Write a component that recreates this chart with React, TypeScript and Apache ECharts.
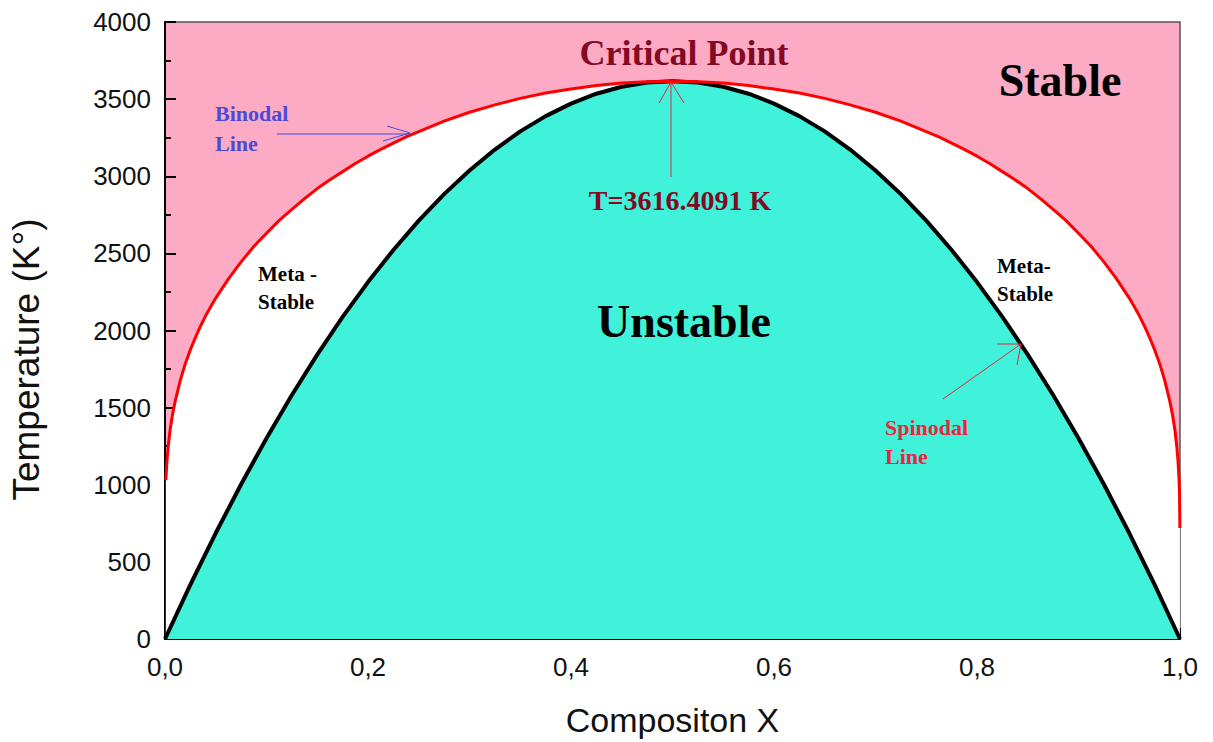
import React, { useEffect, useRef } from "react";
import * as echarts from "echarts";

// Binodal (red) curve: composition X and temperature (K)
const binodalX = [0.0008, 0.002, 0.003, 0.005, 0.0075, 0.01, 0.015, 0.02, 0.025, 0.03, 0.035, 0.04, 0.045, 0.05, 0.0625, 0.075, 0.0875, 0.1, 0.1125, 0.125, 0.1375, 0.15, 0.1625, 0.175, 0.1875, 0.2, 0.2125, 0.225, 0.2375, 0.25, 0.275, 0.3, 0.325, 0.35, 0.375, 0.4, 0.425, 0.45, 0.475, 0.5, 0.525, 0.55, 0.575, 0.6, 0.625, 0.65, 0.675, 0.7, 0.725, 0.75, 0.7625, 0.775, 0.7875, 0.8, 0.8125, 0.825, 0.8375, 0.85, 0.8625, 0.875, 0.8875, 0.9, 0.9125, 0.925, 0.9375, 0.95, 0.955, 0.96, 0.965, 0.97, 0.975, 0.98, 0.985, 0.99, 0.9925, 0.995, 0.997, 0.998, 0.999, 0.9995, 0.9999];
const binodalT = [1030, 1160, 1238, 1355, 1458, 1540, 1675, 1785, 1875, 1955, 2028, 2095, 2154, 2210, 2335, 2445, 2545, 2630, 2714, 2785, 2855, 2920, 2977, 3030, 3083, 3130, 3174, 3215, 3255, 3290, 3357, 3415, 3463, 3505, 3540, 3565, 3588, 3605, 3613, 3616, 3613, 3605, 3588, 3565, 3540, 3505, 3463, 3415, 3357, 3290, 3255, 3215, 3174, 3130, 3083, 3030, 2977, 2920, 2855, 2785, 2714, 2630, 2545, 2445, 2335, 2210, 2154, 2095, 2028, 1955, 1875, 1785, 1675, 1540, 1458, 1355, 1238, 1160, 1045, 950, 720];

// Spinodal (black) curve
const spinodalX = [0, 0.025, 0.05, 0.075, 0.1, 0.125, 0.15, 0.175, 0.2, 0.225, 0.25, 0.275, 0.3, 0.325, 0.35, 0.375, 0.4, 0.425, 0.45, 0.475, 0.5, 0.525, 0.55, 0.575, 0.6, 0.625, 0.65, 0.675, 0.7, 0.725, 0.75, 0.775, 0.8, 0.825, 0.85, 0.875, 0.9, 0.925, 0.95, 0.975, 1.0];
const spinodalT = [0, 353, 687, 1003, 1302, 1582, 1844, 2088, 2314, 2522, 2712, 2884, 3037, 3173, 3291, 3390, 3471, 3535, 3580, 3607, 3616, 3607, 3580, 3535, 3471, 3390, 3291, 3173, 3037, 2884, 2712, 2522, 2314, 2088, 1844, 1582, 1302, 1003, 687, 353, 0];

// Axis settings
const xTicks = { min: 0, max: 1, interval: 0.2 };
const yTicks = { min: 0, max: 4000, interval: 500 };

const SERIF = '"Liberation Serif", "Times New Roman", serif';
const SANS = '"Liberation Sans", Arial, sans-serif';

export default function App() {
  const ref = useRef<HTMLDivElement>(null);

  useEffect(() => {
    if (!ref.current) return;
    const chart = echarts.init(ref.current, null, { renderer: "svg" });

    const binodal = binodalX.map((x, i) => [x, binodalT[i]]);
    const spinodal = spinodalX.map((x, i) => [x, spinodalT[i]]);

    const txt = (text: string, x: number, y: number, size: number, fill: string, align = "left", lh?: number) => ({
      type: "text",
      x,
      y,
      z: 100,
      style: {
        text,
        fill,
        font: `bold ${size}px ${SERIF}`,
        align,
        verticalAlign: "top",
        lineHeight: lh ?? size,
      },
    });
    const ln = (x1: number, y1: number, x2: number, y2: number, stroke: string) => ({
      type: "line",
      z: 100,
      shape: { x1, y1, x2, y2 },
      style: { stroke, lineWidth: 1 },
    });
    const head = (pts: number[][], stroke: string) => ({
      type: "polyline",
      z: 100,
      shape: { points: pts },
      style: { stroke, lineWidth: 1, fill: "none" },
    });

    chart.setOption({
      animation: false,
      grid: {
        left: 162,
        right: 33,
        top: 22,
        bottom: 100,
        show: true,
        backgroundColor: "#FDAAC5",
        borderColor: "#555555",
        borderWidth: 1.5,
      },
      xAxis: {
        type: "value",
        min: xTicks.min,
        max: xTicks.max,
        interval: xTicks.interval,
        name: "Compositon X",
        nameLocation: "middle",
        nameGap: 64,
        nameTextStyle: { fontFamily: SANS, fontSize: 34, color: "#111" },
        axisLine: { show: true, lineStyle: { color: "#000", width: 2 } },
        axisTick: { show: true, inside: true, length: 11, lineStyle: { color: "#000", width: 2 } },
        minorTick: { show: true, splitNumber: 2, length: 6, lineStyle: { color: "#000", width: 2 } },
        splitLine: { show: false },
        axisLabel: {
          fontFamily: SANS,
          fontSize: 26,
          color: "#111",
          margin: 15,
          formatter: (v: number) => v.toFixed(1).replace(".", ","),
        },
      },
      yAxis: {
        type: "value",
        min: yTicks.min,
        max: yTicks.max,
        interval: yTicks.interval,
        name: "Temperature (K°)",
        nameLocation: "middle",
        nameGap: 120,
        nameRotate: 90,
        nameTextStyle: { fontFamily: SANS, fontSize: 37, color: "#111", padding: [0, 58, 0, 0] },
        axisLine: { show: true, lineStyle: { color: "#000", width: 2 } },
        axisTick: { show: true, inside: true, length: 11, lineStyle: { color: "#000", width: 2 } },
        minorTick: { show: true, splitNumber: 2, length: 6, lineStyle: { color: "#000", width: 2 } },
        splitLine: { show: false },
        axisLabel: { fontFamily: SANS, fontSize: 26, color: "#111", margin: 14, formatter: (v: number) => String(v) },
      },
      series: [
        {
          name: "Binodal area",
          type: "line",
          data: binodal,
          smooth: false,
          showSymbol: false,
          lineStyle: { width: 0, color: "#ff0000" },
          areaStyle: { color: "#FFFFFF", opacity: 1 },
          z: 1,
          silent: true,
        },
        {
          name: "Spinodal Line",
          type: "line",
          data: spinodal,
          smooth: false,
          showSymbol: false,
          lineStyle: { width: 4, color: "#000000", join: "round" },
          areaStyle: { color: "#40F2DA", opacity: 1 },
          z: 2,
        },
        {
          name: "Binodal Line",
          type: "line",
          data: binodal,
          smooth: false,
          showSymbol: false,
          lineStyle: { width: 3, color: "#FF0000", join: "round" },
          z: 3,
        },
      ],
      graphic: [
        txt("Critical Point", 684, 35, 36, "#820A24", "center"),
        txt("Stable", 1060, 57, 46, "#000000", "center"),
        txt("Unstable", 684, 298, 46, "#000000", "center"),
        txt("T=3616.4091 K", 680, 186, 28, "#820A24", "center"),
        txt("Binodal\nLine", 215, 98, 22, "#4A4AD6", "left", 30),
        txt("Meta -\nStable", 258, 260, 21, "#000000", "left", 28),
        txt("Meta-\nStable", 997, 252, 21, "#000000", "left", 28),
        txt("Spinodal\nLine", 885, 413, 22, "#E8253C", "left", 29),
        // Binodal arrow
        ln(277, 134, 410, 134, "#4A4AD6"),
        head([[387, 126], [410, 133], [383, 141]], "#4A4AD6"),
        // Critical point arrow
        ln(671, 177, 671, 82, "#E8253C"),
        head([[659, 103], [671, 82], [684, 103]], "#E8253C"),
        // Spinodal arrow
        ln(943, 399, 1021, 344, "#E8253C"),
        head([[997, 344], [1021, 344], [1017, 365]], "#E8253C"),
      ],
    });

    return () => chart.dispose();
  }, []);

  return (
    <div
      ref={ref}
      style={{ position: "fixed", left: 0, top: 0, width: 1213, height: 742, background: "#fff" }}
    />
  );
}
